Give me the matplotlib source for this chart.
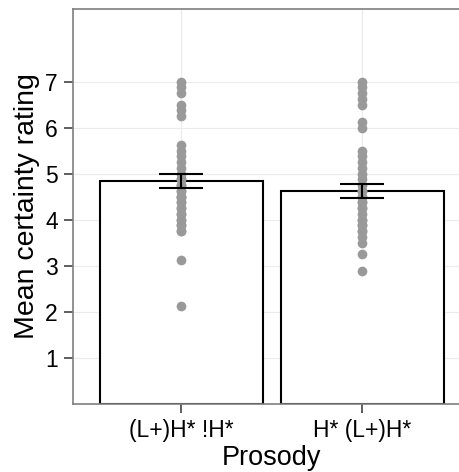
import numpy as np
import matplotlib
matplotlib.use("Agg")
import matplotlib.pyplot as plt

# data
categories = ["(L+)H* !H*", "H* (L+)H*"]
means = [4.84, 4.62]
se = [0.145, 0.145]

ratings_a = [7.0, 6.88, 6.75, 6.5, 6.38, 6.25, 5.62, 5.5, 5.38, 5.25, 5.12, 5.0,
             4.88, 4.88, 4.75, 4.75, 4.62, 4.62, 4.5, 4.5, 4.5, 4.38, 4.38, 4.25,
             4.25, 4.12, 4.12, 4.0, 4.0, 3.88, 3.88, 3.75, 3.75, 3.12, 2.12]
ratings_b = [7.0, 6.88, 6.75, 6.62, 6.5, 6.12, 6.0, 5.5, 5.38, 5.25, 5.12, 5.0,
             4.88, 4.75, 4.62, 4.62, 4.5, 4.5, 4.38, 4.38, 4.25, 4.25, 4.12, 4.0,
             4.0, 3.88, 3.88, 3.75, 3.75, 3.62, 3.5, 3.25, 2.88]
yticks = [1, 2, 3, 4, 5, 6, 7]

plt.rcParams['font.family'] = ['Liberation Sans', 'DejaVu Sans']

fig = plt.figure(figsize=(4.6, 4.72), dpi=100)
ax = fig.add_axes([73 / 460, 68.3 / 472, 397.8 / 460, 394.7 / 472])

x = np.arange(1, len(categories) + 1)

# grid
for yv in yticks:
    ax.axhline(yv, color='#ebebeb', lw=0.8, zorder=0)
for xv in x:
    ax.axvline(xv, color='#ebebeb', lw=0.8, zorder=0)

ax.bar(x, means, width=0.9, color='white', edgecolor='black', linewidth=1.5, zorder=1)

for xv, vals in zip(x, [ratings_a, ratings_b]):
    ax.plot(np.full(len(vals), xv), vals, 'o', color='#999999', markersize=7,
            markeredgewidth=0, zorder=2)

ax.errorbar(x, means, yerr=se, fmt='none', ecolor='black', elinewidth=1.5,
            capsize=16, capthick=1.5, zorder=3)

ax.set_xlim(0.4, 2.6)
ax.set_ylim(0, 8.58)
ax.set_xticks(x)
ax.set_xticklabels(categories)
ax.set_yticks(yticks)
ax.tick_params(axis='both', labelsize=16.5, length=6.8, width=1.1, color='#333333',
               labelcolor='black', pad=4)

for s in ax.spines.values():
    s.set_color('#7f7f7f')
    s.set_linewidth(1.2)

ax.set_xlabel("Prosody", fontsize=19.5, labelpad=2.5)
ax.set_ylabel("Mean certainty rating", fontsize=20.5, labelpad=4)

fig.savefig("out.png", dpi=100)
